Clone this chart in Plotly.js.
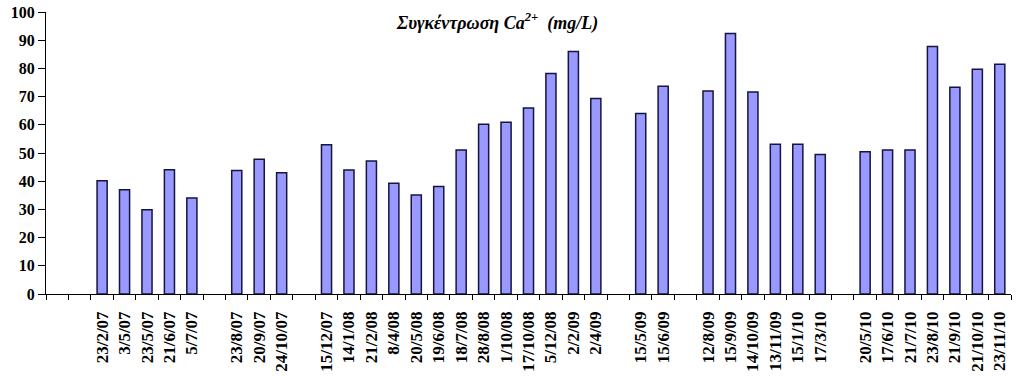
<!DOCTYPE html>
<html>
<head>
<meta charset="utf-8">
<script src="https://cdn.plot.ly/plotly-3.0.1.min.js"></script>
<style>html,body{margin:0;padding:0;background:#fff;}#chart{width:1024px;height:379px;}</style>
</head>
<body>
<div id="chart"></div>
<script>
// Category labels (empty strings are the blank slots of the original axis)
var dates = ["", "", "23/2/07", "3/5/07", "23/5/07", "21/6/07", "5/7/07", "",
  "23/8/07", "20/9/07", "24/10/07", "",
  "15/12/07", "14/1/08", "21/2/08", "8/4/08", "20/5/08", "19/6/08", "18/7/08", "28/8/08",
  "1/10/08", "17/10/08", "5/12/08", "2/2/09", "2/4/09", "",
  "15/5/09", "15/6/09", "",
  "12/8/09", "15/9/09", "14/10/09", "13/11/09", "15/1/10", "17/3/10", "",
  "20/5/10", "17/6/10", "21/7/10", "23/8/10", "21/9/10", "21/10/10", "23/11/10"];
// Ca2+ concentration (mg/L); null = no sample
var calcium = [null, null, 40.2, 37, 29.9, 44.1, 34, null,
  43.8, 47.8, 43, null,
  52.9, 44, 47.2, 39.3, 35.1, 38.1, 51.1, 60.2,
  60.9, 66, 78.2, 86, 69.3, null,
  64, 73.7, null,
  72, 92.4, 71.6, 53.1, 53.1, 49.5, null,
  50.4, 51.1, 51.1, 87.8, 73.3, 79.7, 81.5];
var yTicks = [0, 10, 20, 30, 40, 50, 60, 70, 80, 90, 100];

var idx = dates.map(function (d, i) { return i; });
var bounds = [];
for (var i = 0; i <= dates.length; i++) bounds.push(i - 0.5);
var n = dates.length;
var labelVals = [], labelText = [];
dates.forEach(function (d, i) { if (d) { labelVals.push(i); labelText.push('<b>' + d + '</b>'); } });

var serif = 'Liberation Serif, Times New Roman, serif';

var trace = {
  type: 'bar',
  x: idx,
  y: calcium,
  marker: { color: '#9999FF', line: { color: '#151540', width: 1.5 } },
  hoverinfo: 'y',
  showlegend: false
};
var labelTrace = {
  type: 'scatter', mode: 'markers', x: idx, y: idx.map(function () { return 0; }),
  xaxis: 'x2', marker: { opacity: 0 }, hoverinfo: 'skip', showlegend: false
};

var layout = {
  width: 1024, height: 379,
  margin: { l: 46, r: 13, t: 12, b: 85 },
  paper_bgcolor: '#fff', plot_bgcolor: '#fff',
  bargap: 0.55,
  title: {
    text: '<b><i>Συγκέντρωση Ca<sup>2+</sup>  (mg/L)</i></b>',
    font: { family: serif, size: 18, color: '#000' },
    x: 0.468, xanchor: 'center', y: 0.94, yanchor: 'middle', xref: 'paper', yref: 'container'
  },
  xaxis: {
    range: [-0.5, n - 0.5], showgrid: false, zeroline: false,
    showline: true, linecolor: '#000', linewidth: 1,
    tickmode: 'array', tickvals: bounds, showticklabels: false,
    ticks: 'outside', ticklen: 5, tickcolor: '#000', tickwidth: 1, fixedrange: true
  },
  xaxis2: {
    overlaying: 'x', side: 'bottom', range: [-0.5, n - 0.5], showgrid: false, zeroline: false,
    showline: false, tickmode: 'array', tickvals: labelVals, ticktext: labelText,
    ticks: '', tickangle: -90, ticklabelstandoff: 13,
    tickfont: { family: serif, size: 17, color: '#000' }, fixedrange: true
  },
  yaxis: {
    range: [0, 100], showgrid: false, zeroline: false,
    showline: true, linecolor: '#000', linewidth: 1,
    tickmode: 'array', tickvals: yTicks, ticktext: yTicks.map(function (v) { return '<b>' + v + '</b>'; }),
    ticks: 'outside', ticklen: 7, tickcolor: '#000',
    tickfont: { family: serif, size: 16, color: '#000' }, fixedrange: true
  }
};
Plotly.newPlot('chart', [trace, labelTrace], layout, { displayModeBar: false, staticPlot: true });
</script>
</body>
</html>
